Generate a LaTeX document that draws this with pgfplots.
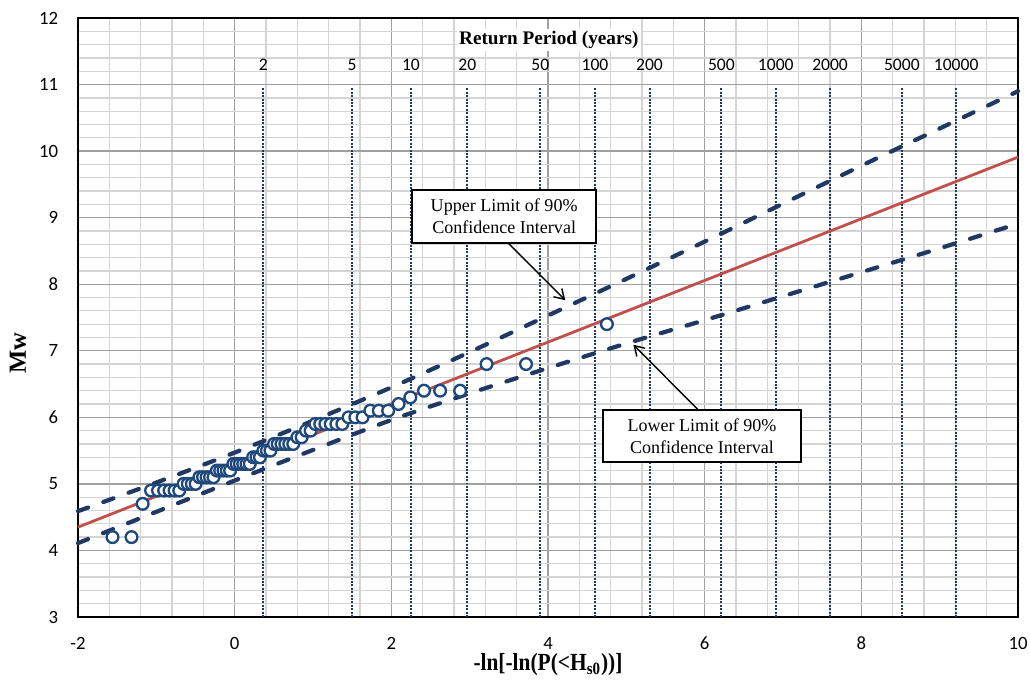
\documentclass[border=0pt]{standalone}
\usepackage{pgfplots}
\pgfplotsset{compat=1.18}
\usepackage{pgfplotstable}
\usepackage{fontspec}
\setmainfont{Liberation Serif}
\newfontfamily\calibri{Carlito}
\usetikzlibrary{calc,arrows.meta}

\definecolor{navy}{RGB}{31,56,100}
\definecolor{mkblue}{RGB}{31,73,125}
\definecolor{fitred}{RGB}{192,80,77}
\definecolor{minorgrid}{RGB}{212,212,212}
\definecolor{majorgrid}{RGB}{160,160,160}

\pgfplotstableread{
x y
-1.5594 4.2
-1.3168 4.2
-1.1744 4.7
-1.0670 4.9
-0.9779 4.9
-0.9004 4.9
-0.8308 4.9
-0.7670 4.9
-0.7076 4.9
-0.6516 5.0
-0.5984 5.0
-0.5474 5.0
-0.4982 5.0
-0.4505 5.1
-0.4041 5.1
-0.3587 5.1
-0.3142 5.1
-0.2704 5.1
-0.2273 5.2
-0.1846 5.2
-0.1423 5.2
-0.1002 5.2
-0.0583 5.2
-0.0166 5.3
0.0252 5.3
0.0670 5.3
0.1089 5.3
0.1509 5.3
0.1932 5.3
0.2360 5.4
0.2791 5.4
0.3225 5.4
0.3665 5.5
0.4112 5.5
0.4565 5.5
0.5026 5.6
0.5494 5.6
0.5973 5.6
0.6463 5.6
0.6963 5.6
0.7478 5.6
0.8005 5.7
0.8550 5.7
0.9110 5.8
0.9692 5.8
1.0295 5.9
1.0922 5.9
1.1575 5.9
1.2259 5.9
1.2982 5.9
1.3743 5.9
1.4546 6.0
1.5404 6.0
1.6327 6.0
1.7322 6.1
1.8401 6.1
1.9596 6.1
2.0924 6.2
2.2426 6.3
2.4168 6.4
2.6228 6.4
2.8780 6.4
3.2161 6.8
3.7193 6.8
4.7517 7.4
}\obsdata

\pgfplotstableread{
x y
-2 4.59
-1 5.02
0 5.47
1 5.95
2 6.45
3 6.98
4 7.53
5 8.08
6 8.64
7 9.21
8 9.78
9 10.34
10 10.90
}\upperdata

\pgfplotstableread{
x y
-2 4.11
-1 4.58
0 5.05
1 5.51
2 5.96
3 6.36
4 6.74
5 7.11
6 7.46
7 7.82
8 8.18
9 8.54
10 8.91
}\lowerdata

\begin{document}
\begin{tikzpicture}
\begin{axis}[
  scale only axis, width=14.1cm, height=8.985cm,
  xmin=-2, xmax=10, ymin=3, ymax=12,
  xtick={-2,0,2,4,6,8,10}, ytick={3,4,...,12},
  minor x tick num=4, minor y tick num=4,
  grid=both,
  major grid style={draw=majorgrid, line width=0.55pt},
  minor grid style={draw=minorgrid, line width=0.55pt},
  major tick length=0pt, minor tick length=0pt,
  axis line style={black, line width=0.8pt},
  tick label style={font=\calibri\fontsize{8}{9}\selectfont},
  /pgf/number format/assume math mode=true,
  yticklabel style={xshift=-5pt},
  xticklabel style={yshift=-5pt},
  xlabel={\scalebox{0.87}[1]{\bfseries -ln[-ln(P(<H\textsubscript{s0}))]}},
  ylabel={\bfseries Mw},
  xlabel style={at={(axis description cs:0.5,-0.0801)}, anchor=center, font=\fontsize{10.5}{12}\selectfont},
  ylabel style={at={(axis description cs:-0.0638,0.44)}, anchor=center, rotate=0, font=\fontsize{10.5}{12}\selectfont},
  clip=false,
]
\coordinate (O) at (rel axis cs:0,0);
% return period dotted lines
\addplot[navy, line width=0.85pt, dash pattern=on 0.85pt off 0.6pt, forget plot] coordinates {(0.3665,3)(0.3665,10.95)};
\addplot[navy, line width=0.85pt, dash pattern=on 0.85pt off 0.6pt, forget plot] coordinates {(1.4999,3)(1.4999,10.95)};
\addplot[navy, line width=0.85pt, dash pattern=on 0.85pt off 0.6pt, forget plot] coordinates {(2.2504,3)(2.2504,10.95)};
\addplot[navy, line width=0.85pt, dash pattern=on 0.85pt off 0.6pt, forget plot] coordinates {(2.9702,3)(2.9702,10.95)};
\addplot[navy, line width=0.85pt, dash pattern=on 0.85pt off 0.6pt, forget plot] coordinates {(3.9019,3)(3.9019,10.95)};
\addplot[navy, line width=0.85pt, dash pattern=on 0.85pt off 0.6pt, forget plot] coordinates {(4.6001,3)(4.6001,10.95)};
\addplot[navy, line width=0.85pt, dash pattern=on 0.85pt off 0.6pt, forget plot] coordinates {(5.2958,3)(5.2958,10.95)};
\addplot[navy, line width=0.85pt, dash pattern=on 0.85pt off 0.6pt, forget plot] coordinates {(6.2136,3)(6.2136,10.95)};
\addplot[navy, line width=0.85pt, dash pattern=on 0.85pt off 0.6pt, forget plot] coordinates {(6.9073,3)(6.9073,10.95)};
\addplot[navy, line width=0.85pt, dash pattern=on 0.85pt off 0.6pt, forget plot] coordinates {(7.6007,3)(7.6007,10.95)};
\addplot[navy, line width=0.85pt, dash pattern=on 0.85pt off 0.6pt, forget plot] coordinates {(8.5171,3)(8.5171,10.95)};
\addplot[navy, line width=0.85pt, dash pattern=on 0.85pt off 0.6pt, forget plot] coordinates {(9.2103,3)(9.2103,10.95)};

% return period labels
\begin{scope}[every node/.style={font=\calibri\fontsize{7.5}{9}\selectfont, inner sep=1pt}]
\node at (axis cs:0.3665,11.29) {2};
\node at (axis cs:1.4999,11.29) {5};
\node at (axis cs:2.2504,11.29) {10};
\node at (axis cs:2.9702,11.29) {20};
\node at (axis cs:3.9019,11.29) {50};
\node at (axis cs:4.6001,11.29) {100};
\node at (axis cs:5.2958,11.29) {200};
\node at (axis cs:6.2136,11.29) {500};
\node at (axis cs:6.9073,11.29) {1000};
\node at (axis cs:7.6007,11.29) {2000};
\node at (axis cs:8.5171,11.29) {5000};
\node at (axis cs:9.2103,11.29) {10000};
\end{scope}
\node[font=\bfseries\fontsize{8.2}{10}\selectfont, fill=white, inner sep=1pt] at (axis cs:4.01,11.67) {Return Period (years)};

% fitted line
\addplot[fitred, line width=1.2pt] coordinates {(-2,4.35)(10,9.91)};
% confidence limits
\addplot[navy, line width=1.8pt, dash pattern=on 4.6pt off 6.9pt, line cap=round, smooth] table[x=x,y=y] {\upperdata};
\addplot[navy, line width=1.8pt, dash pattern=on 4.6pt off 6.9pt, line cap=round, smooth] table[x=x,y=y] {\lowerdata};
% observations
\addplot[only marks, mark=*, mark size=2.5pt, mark options={fill=white, draw=mkblue, line width=1.0pt}] table[x=x,y=y] {\obsdata};

% annotations
\draw[black, line width=0.6pt, -{Straight Barb[length=4pt,width=5pt]}] (axis cs:3.49,8.62) -- (axis cs:4.22,7.76);
\draw[black, line width=0.6pt, -{Straight Barb[length=4pt,width=5pt]}] (axis cs:5.92,6.11) -- (axis cs:5.09,7.09);
\node[draw=black, fill=white, line width=0.6pt, align=center, minimum width=2.76cm, minimum height=0.795cm, inner sep=1pt, font=\fontsize{7.7}{9.4}\selectfont] at (axis cs:3.44,9.02) {Upper Limit of 90\%\\Confidence Interval};
\node[draw=black, fill=white, line width=0.6pt, align=center, minimum width=2.97cm, minimum height=0.78cm, inner sep=1pt, font=\fontsize{7.7}{9.4}\selectfont] at (axis cs:5.966,5.72) {Lower Limit of 90\%\\Confidence Interval};
\end{axis}
\pgfresetboundingbox
\path[use as bounding box] ($(O)+(-1.17cm,-0.975cm)$) rectangle ++(15.45cm,10.23cm);
\end{tikzpicture}
\end{document}
